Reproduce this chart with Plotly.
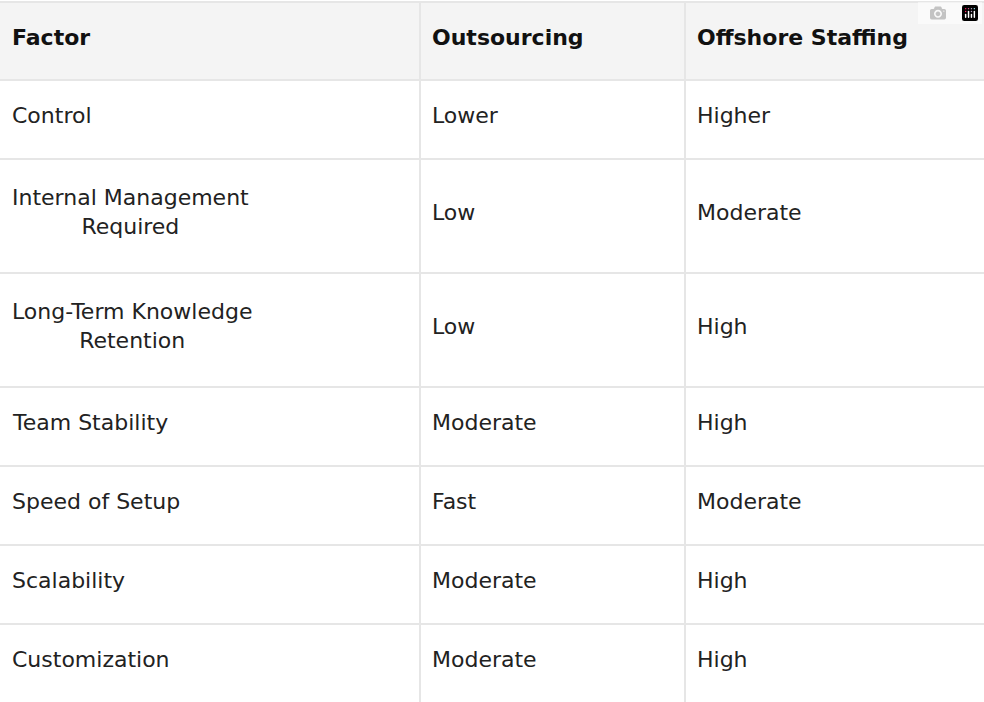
import plotly.graph_objects as go

headers = ["Factor", "Outsourcing", "Offshore Staffing"]
factors = ["Control", "Internal Management<br>Required", "Long-Term Knowledge<br>Retention",
           "Team Stability", "Speed of Setup", "Scalability", "Customization"]
outsourcing = ["Lower", "Low", "Low", "Moderate", "Fast", "Moderate", "Moderate"]
offshore = ["Higher", "Moderate", "High", "High", "Moderate", "High", "High"]

W, H = 984, 702
col_edges = [0, 420, 685, 984]
pad = 10
top, header_h = 2, 78
line_color = "#e6e6e6"
font = "DejaVu Sans"

fig = go.Figure()
shapes, annots = [], []

# header
shapes.append(dict(type="rect", x0=0, x1=W, y0=top, y1=top + header_h,
                   fillcolor="#f4f4f4", line=dict(width=0), layer="below"))
for i, h in enumerate(headers):
    annots.append(dict(x=col_edges[i] + pad, y=top + header_h / 2 - 4, text=f"<b>{h}</b>",
                       xanchor="left", yanchor="middle", showarrow=False,
                       font=dict(family=font, size=22, color="#111111")))

# rows
y = top + header_h
row_tops = []
for r in range(len(factors)):
    lines = factors[r].count("<br>") + 1
    rh = 79 if lines == 1 else 114
    row_tops.append(y)
    for i, col in enumerate([factors, outsourcing, offshore]):
        annots.append(dict(x=col_edges[i] + pad, y=y + rh / 2 - 4, text=col[r],
                           xanchor="left", yanchor="middle", showarrow=False,
                           font=dict(family=font, size=22, color="#222222")))
    y += rh
row_tops.append(y)

# horizontal lines
for yy in [top] + row_tops:
    shapes.append(dict(type="line", x0=0, x1=W, y0=yy, y1=yy,
                       line=dict(color=line_color, width=2)))
# vertical lines
for xx in col_edges[1:3]:
    shapes.append(dict(type="line", x0=xx, x1=xx, y0=top, y1=y,
                       line=dict(color=line_color, width=2)))

fig.update_layout(width=W, height=H, margin=dict(l=0, r=0, t=0, b=0),
                  paper_bgcolor="white", plot_bgcolor="white",
                  xaxis=dict(range=[0, W], visible=False, fixedrange=True),
                  yaxis=dict(range=[H, 0], visible=False, fixedrange=True),
                  shapes=shapes, annotations=annots, showlegend=False)
fig.write_html("out.html", post_script="document.body.style.margin='0';")
